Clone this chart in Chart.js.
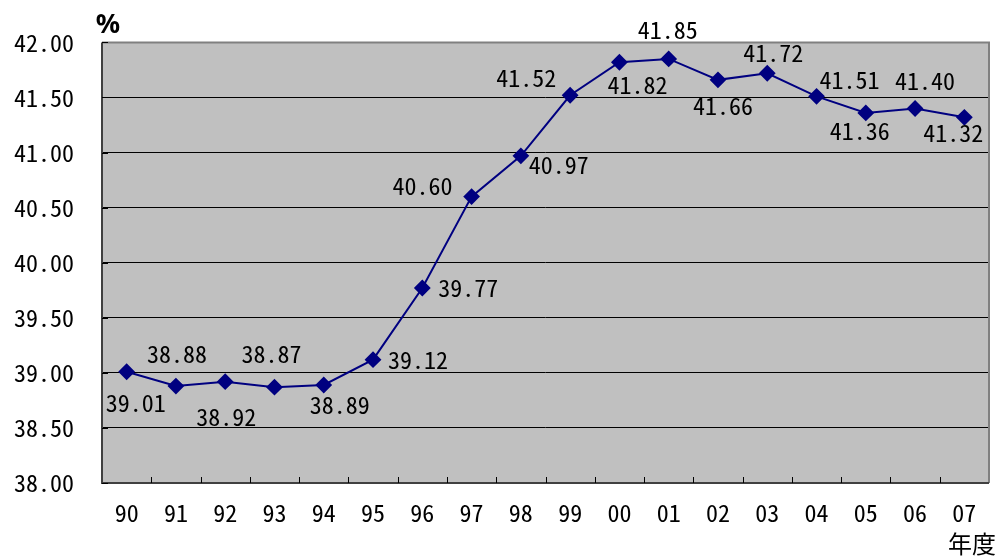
<!DOCTYPE html>
<html>
<head>
<meta charset="utf-8">
<script src="https://cdn.jsdelivr.net/npm/chart.js@4/dist/chart.umd.min.js"></script>
<style>
  html, body { margin: 0; padding: 0; background: #ffffff; }
  #wrap { position: relative; width: 998px; height: 556px; }
</style>
</head>
<body>
<div id="wrap"><canvas id="c" width="998" height="556"></canvas></div>
<script>
// Fiscal years (two-digit) and the yearly share in percent
const years = ['90','91','92','93','94','95','96','97','98','99','00','01','02','03','04','05','06','07'];
const shares = [39.01, 38.88, 38.92, 38.87, 38.89, 39.12, 39.77, 40.60, 40.97, 41.52, 41.82, 41.85, 41.66, 41.72, 41.51, 41.36, 41.40, 41.32];
const yMin = 38.0;
const yMax = 42.0;
const yStep = 0.5;

const FONT = "'Noto Sans Mono CJK JP', 'Liberation Mono', 'DejaVu Sans Mono', monospace";
const LINE_COLOR = '#000080';

// Where each value label sits relative to its marker (pixels)
const labelOffsets = [
  [9, 31], [1, -32], [1, 35], [-3, -33], [16, 20],
  [45, 0], [46, 0], [-49, -11], [38, 9], [-44, -17],
  [18, 23], [-1, -29], [5, 26], [6, -20], [33, -16],
  [-6, 18], [10, -28], [-11, 16]
];

const fmt = v => v.toFixed(2);

const valueLabels = {
  id: 'valueLabels',
  afterDatasetsDraw(chart) {
    const ctx = chart.ctx;
    const meta = chart.getDatasetMeta(0);
    ctx.save();
    ctx.font = '24px ' + FONT;
    ctx.fillStyle = '#000000';
    ctx.textAlign = 'center';
    ctx.textBaseline = 'middle';
    meta.data.forEach((pt, i) => {
      const o = labelOffsets[i];
      ctx.fillText(fmt(shares[i]), pt.x + o[0], pt.y + o[1]);
    });
    ctx.restore();
  }
};

// Plot frame, inward tick marks and the unit captions
const frame = {
  id: 'frame',
  beforeDatasetsDraw(chart) {
    const { ctx, chartArea: a, scales } = chart;
    ctx.save();
    // gray top/right border
    ctx.strokeStyle = '#808080';
    ctx.lineWidth = 2;
    ctx.beginPath();
    ctx.moveTo(a.left, a.top);
    ctx.lineTo(a.right, a.top);
    ctx.lineTo(a.right, a.bottom);
    ctx.stroke();
    // dark left/bottom axes
    ctx.strokeStyle = '#404040';
    ctx.lineWidth = 2;
    ctx.beginPath();
    ctx.moveTo(a.left, a.top);
    ctx.lineTo(a.left, a.bottom);
    ctx.lineTo(a.right, a.bottom);
    ctx.stroke();
    // category boundary ticks along the bottom
    ctx.strokeStyle = '#000000';
    ctx.lineWidth = 1;
    const xs = scales.x;
    for (let i = 1; i < years.length; i++) {
      const px = Math.round((xs.getPixelForValue(i - 1) + xs.getPixelForValue(i)) / 2) + 0.5;
      ctx.beginPath();
      ctx.moveTo(px, a.bottom);
      ctx.lineTo(px, a.bottom - 6);
      ctx.stroke();
    }
    // short ticks on the value axis
    const ys = scales.y;
    for (let v = yMin; v <= yMax + 1e-9; v += yStep) {
      const py = Math.round(ys.getPixelForValue(v)) + 0.5;
      ctx.beginPath();
      ctx.moveTo(a.left, py);
      ctx.lineTo(a.left + 6, py);
      ctx.stroke();
    }
    ctx.restore();
  },
  afterDraw(chart) {
    const { ctx, chartArea: a } = chart;
    ctx.save();
    ctx.fillStyle = '#000000';
    ctx.font = "bold 27px 'Noto Sans', 'DejaVu Sans', sans-serif";
    ctx.textAlign = 'center';
    ctx.textBaseline = 'middle';
    ctx.fillText('%', a.left + 6, 25);
    ctx.font = "24px 'Noto Sans CJK JP', sans-serif";
    ctx.textAlign = 'right';
    ctx.fillText('年度', 996, 544);
    ctx.restore();
  }
};

const plotBg = {
  id: 'plotBg',
  beforeDraw(chart) {
    const { ctx, chartArea: a } = chart;
    ctx.save();
    ctx.fillStyle = '#C0C0C0';
    ctx.fillRect(a.left, a.top, a.right - a.left, a.bottom - a.top);
    ctx.restore();
  }
};

new Chart(document.getElementById('c'), {
  type: 'line',
  data: {
    labels: years,
    datasets: [{
      data: shares,
      borderColor: LINE_COLOR,
      backgroundColor: LINE_COLOR,
      borderWidth: 2,
      pointStyle: 'rectRot',
      pointRadius: 7,
      pointHoverRadius: 7,
      tension: 0,
      fill: false
    }]
  },
  options: {
    responsive: false,
    animation: false,
    layout: { padding: { top: 42, right: 8, left: 0, bottom: 0 } },
    plugins: { legend: { display: false }, tooltip: { enabled: false } },
    scales: {
      x: {
        offset: true,
        grid: { display: false, drawTicks: false },
        border: { display: false },
        ticks: { color: '#000000', font: { family: FONT, size: 24 }, padding: 15, maxRotation: 0, autoSkip: false },
        afterFit(s) { s.height = 73; }
      },
      y: {
        min: yMin,
        max: yMax,
        grid: { color: '#000000', lineWidth: 1, drawTicks: false },
        border: { display: false },
        ticks: {
          stepSize: yStep,
          color: '#000000',
          font: { family: FONT, size: 24 },
          padding: 28,
          callback: v => fmt(v)
        },
        afterFit(s) { s.width = 102; }
      }
    }
  },
  plugins: [plotBg, frame, valueLabels]
});
</script>
</body>
</html>
